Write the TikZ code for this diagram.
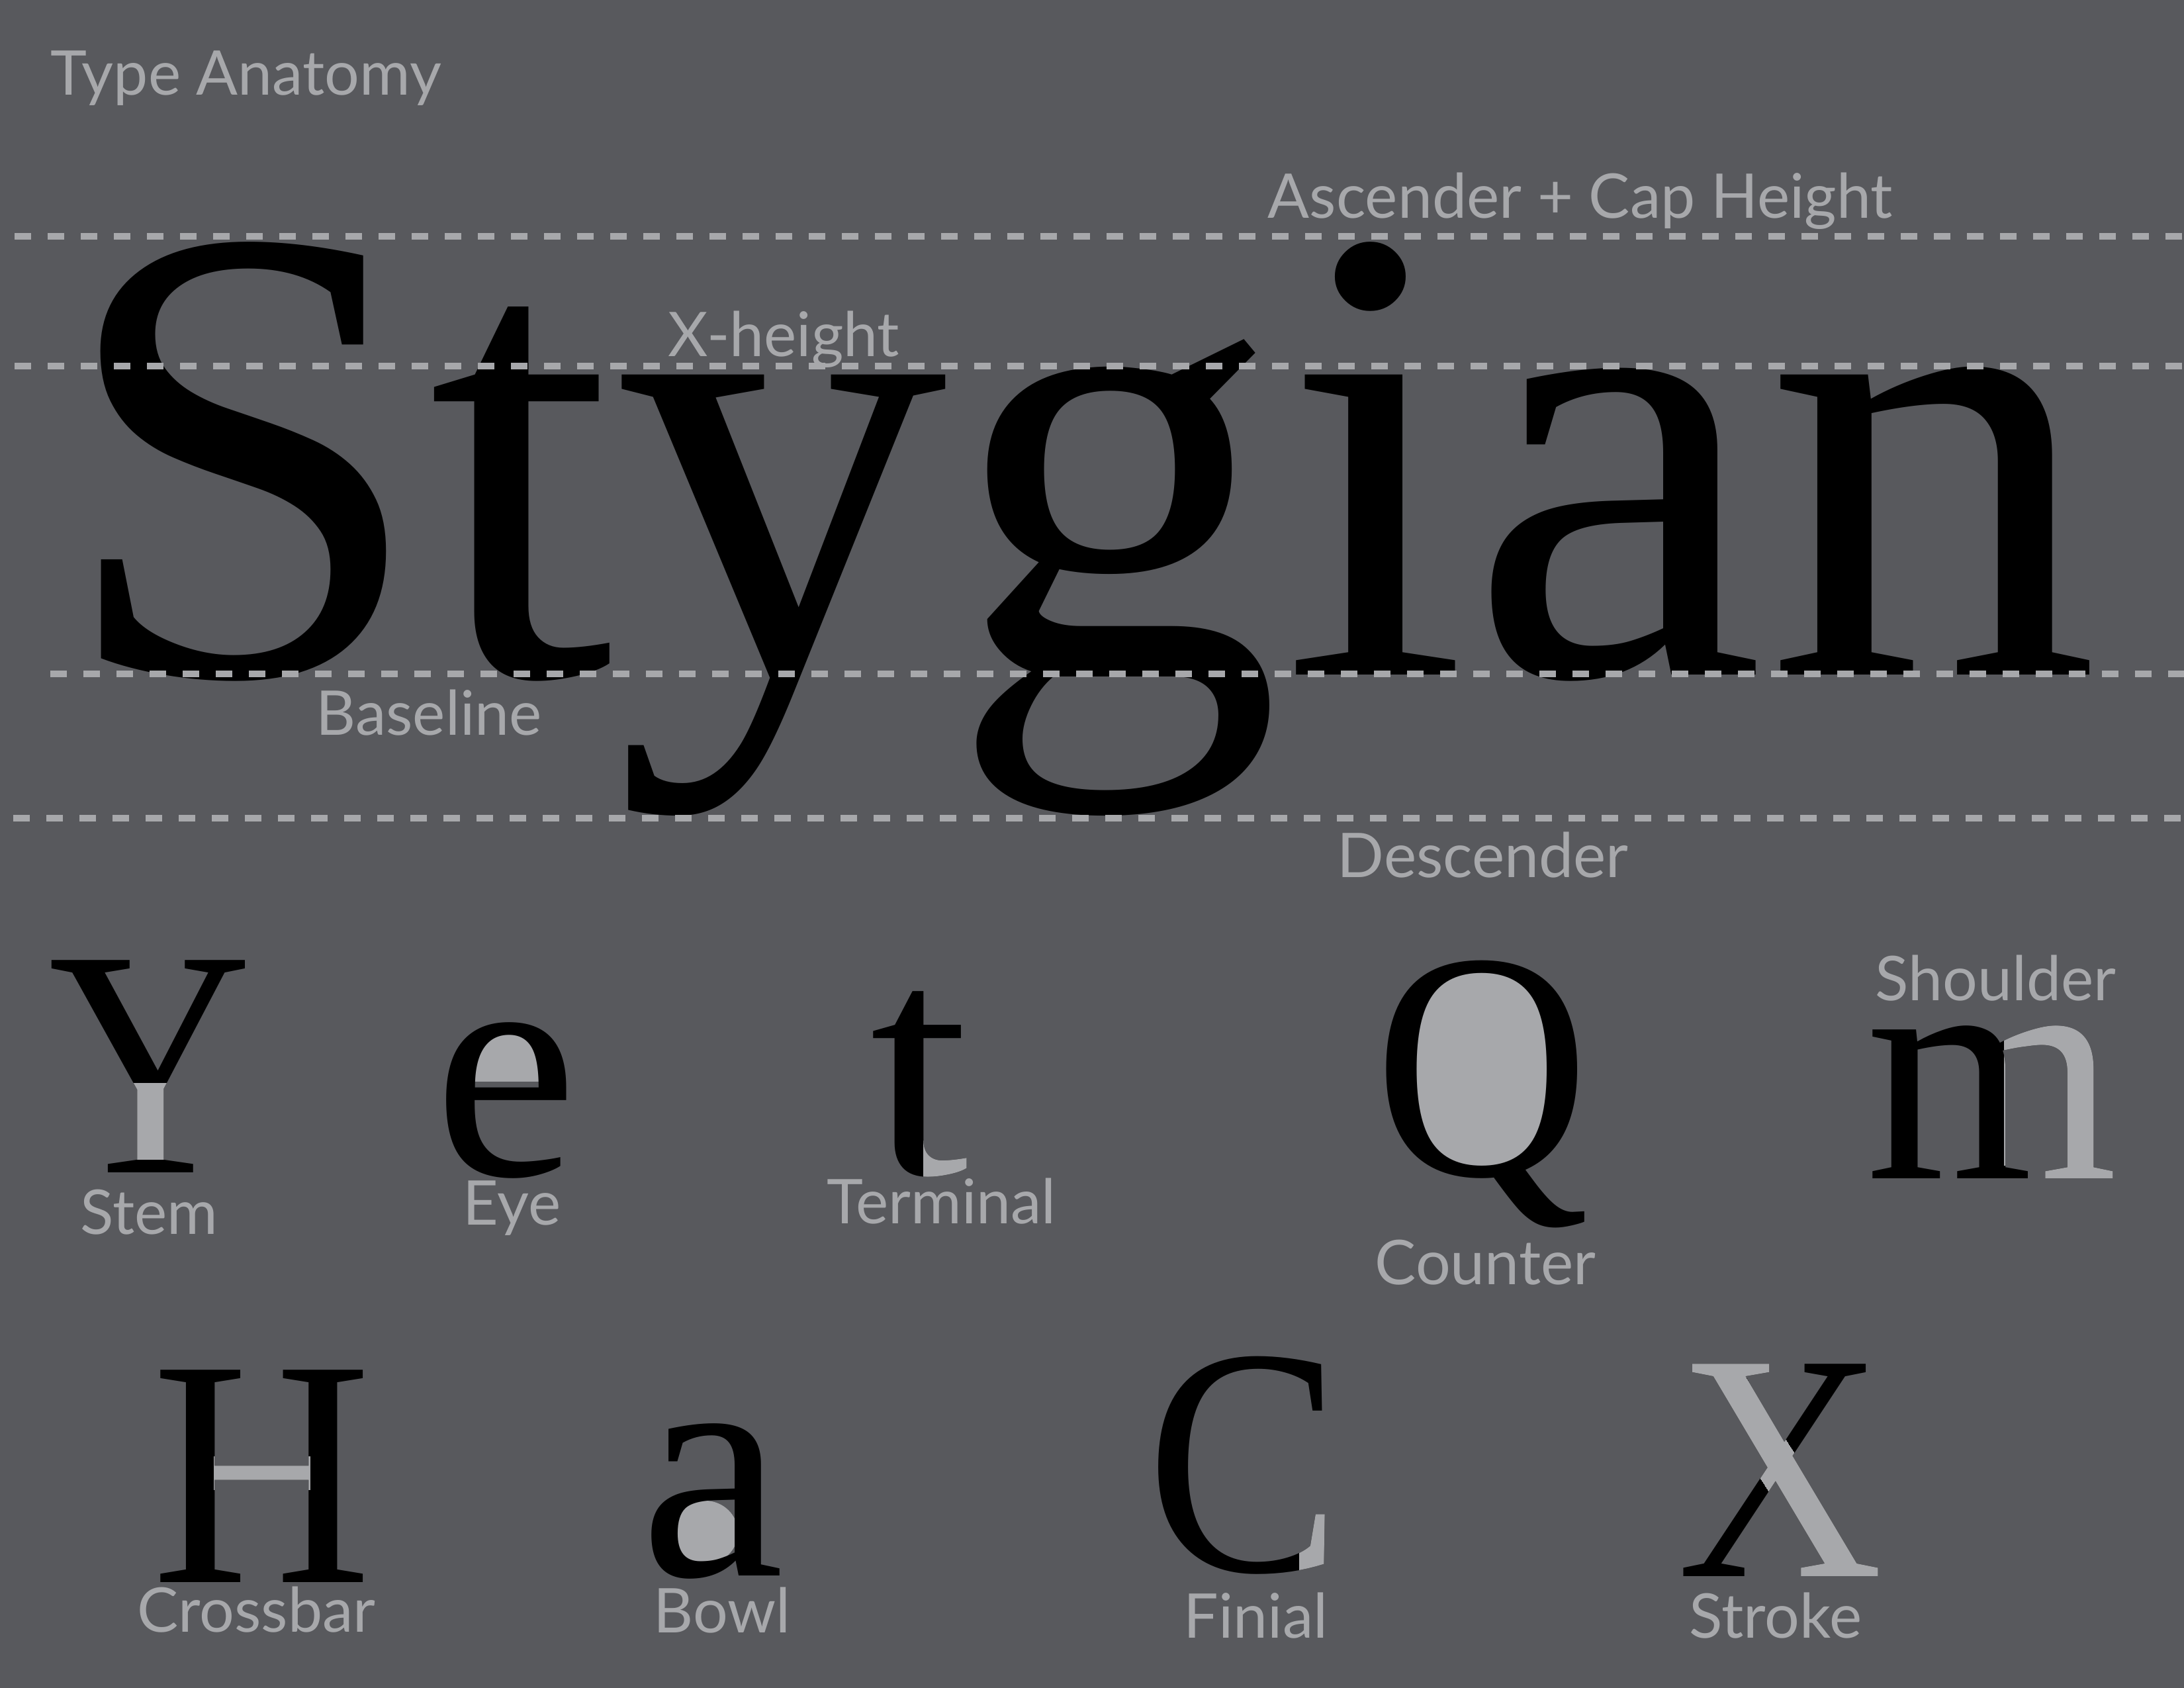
\documentclass[tikz,border=0pt]{standalone}
\usepackage{fontspec}
\setmainfont{Liberation Serif}
\newfontfamily\labelfont{Lato}
\usepackage{xcolor}

\definecolor{slate}{HTML}{58595D}
\definecolor{pale}{HTML}{A7A8AB}

\begin{document}
\begin{tikzpicture}[
  guide/.style={pale, line width=1mm, dash pattern=on 2.5mm off 2.5mm},
  tag/.style={font=\labelfont\fontsize{26.5}{26.5}\selectfont, text=pale, inner sep=0pt, anchor=base west},
  bigword/.style={font=\fontsize{281}{281}\selectfont, text=black, inner sep=0pt, anchor=base west, transform shape},
  glyph/.style={font=\fontsize{139.4}{139.4}\selectfont, text=black, inner sep=0pt, anchor=base, transform shape},
  part/.style={glyph, text=pale}
]
  % Page (3300 x 2550 px, 1cm = 100px)
  \fill[slate] (0,0) rectangle (33,25.5);
  \useasboundingbox (0,0) rectangle (33,25.5);

  % Title
  \node[tag] (title) at (0.76,24.06) {Type Anatomy};

  % Big sample word
  \begin{scope}[shift={(0.84,15.30)}, xscale=1.023]
    \node[bigword] (word) at (0,0) {Stygian};
  \end{scope}

  % Guide lines (drawn over the word)
  \coordinate (ascL)  at (0.22,21.93); \coordinate (ascR)  at (33,21.93);
  \coordinate (xhL)   at (0.22,19.97); \coordinate (xhR)   at (33,19.97);
  \coordinate (baseL) at (0.76,15.32); \coordinate (baseR) at (33,15.32);
  \coordinate (descL) at (0.20,13.14); \coordinate (descR) at (33,13.14);
  \draw[guide] (ascL) -- (ascR);
  \draw[guide] (xhL) -- (xhR);
  \draw[guide] (baseL) -- (baseR);
  \draw[guide] (descL) -- (descR);

  % Guide labels
  \node[tag] (asc)  at (19.15,22.20) {Ascender + Cap Height};
  \node[tag] (xh)   at (10.09,20.11) {X-height};
  \node[tag] (base) at (4.77,14.39)  {Baseline};
  \node[tag] (desc) at (20.20,12.24) {Descender};

  % Row 1: stem, eye, terminal, counter, shoulder
  \begin{scope}[shift={(2.27,7.78)}, xscale=0.87]
    \node[glyph] (Y) at (0,0) {Y};
    \begin{scope}
      \clip (-0.30,0.20) rectangle (0.30,1.35);
      \node[part] (Yst) at (0,0) {Y};
    \end{scope}
  \end{scope}

  \begin{scope}[shift={(7.64,7.74)}]
    \begin{scope}
      \clip (-1,1.42) rectangle (1,2.5);
      \fill[pale] (0,1.47) ellipse (0.82 and 0.686);
    \end{scope}
    \node[glyph] (e) at (0,0) {e};
  \end{scope}

  \begin{scope}[shift={(13.89,7.76)}, xscale=1.1]
    \node[glyph] (t) at (0,0) {t};
    \begin{scope}
      \clip (0.06,-0.3) rectangle (1,0.5);
      \node[part] (tterm) at (0,0) {t};
    \end{scope}
  \end{scope}

  \begin{scope}[shift={(22.39,7.74)}, xscale=0.92]
    \fill[pale] (0,1.62) ellipse (1.37 and 1.62);
    \node[glyph] (Q) at (0,0) {Q};
  \end{scope}

  \begin{scope}[shift={(30.10,7.69)}]
    \node[glyph] (m) at (0,0) {m};
    \begin{scope}
      \clip (0.18,0.2) -- (0.18,3) -- (2.2,3) -- (2.2,-0.3) -- (0.56,-0.3) -- (0.56,0.2) -- cycle;
      \node[part] (msh) at (0,0) {m};
    \end{scope}
  \end{scope}

  \node[tag] (stem)     at (1.21,6.85)  {Stem};
  \node[tag] (eye)      at (6.99,6.99)  {Eye};
  \node[tag] (terminal) at (12.49,7.01) {Terminal};
  \node[tag] (counter)  at (20.77,6.09) {Counter};
  \node[tag] (shoulder) at (28.33,10.38) {Shoulder};

  % Row 2: crossbar, bowl, finial, stroke
  \begin{scope}[shift={(3.96,1.59)}, xscale=0.94]
    \node[glyph] (H) at (0,0) {H};
    \begin{scope}
      \clip (-0.77,1.40) rectangle (0.77,1.90);
      \node[part] (Hbar) at (0,0) {H};
    \end{scope}
  \end{scope}

  \begin{scope}[shift={(10.76,1.69)}]
    \fill[pale] (-0.11,0.66) ellipse (0.50 and 0.48);
    \node[glyph] (a) at (0,0) {a};
  \end{scope}

  \begin{scope}[shift={(18.80,1.76)}, xscale=0.90]
    \node[glyph] (C) at (0,0) {C};
    \begin{scope}
      \clip (0.93,-0.3) rectangle (2,0.95);
      \node[part] (Cfin) at (0,0) {C};
    \end{scope}
  \end{scope}

  \begin{scope}[shift={(26.90,1.68)}, xscale=0.88]
    \node[glyph] (X) at (0,0) {X};
    \begin{scope}
      \clip (-1.77,3.43) -- (-0.15,3.43) -- (-0.15,3.06) -- (-0.59,3.01)
        -- (1.44,0.22) -- (1.81,0.17) -- (1.81,-0.15) -- (0.17,-0.15)
        -- (0.17,0.17) -- (0.56,0.22) -- (-1.43,3.01) -- (-1.77,3.06) -- cycle;
      \node[part] (Xstr) at (0,0) {X};
    \end{scope}
  \end{scope}

  \node[tag] (crossbar) at (2.07,0.84)  {Crossbar};
  \node[tag] (bowl)     at (9.87,0.83)  {Bowl};
  \node[tag] (finial)   at (17.88,0.75) {Finial};
  \node[tag] (stroke)   at (25.52,0.75) {Stroke};
\end{tikzpicture}
\end{document}
